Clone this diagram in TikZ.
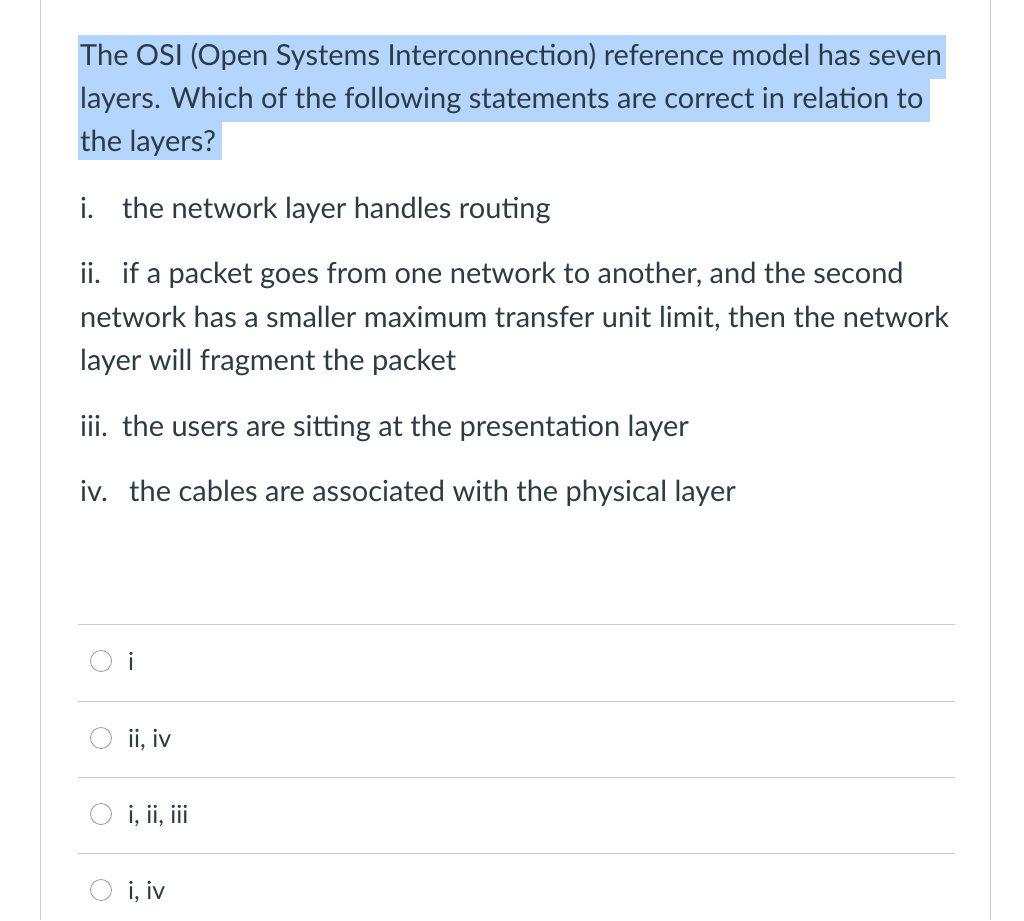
\documentclass[tikz,border=0pt]{standalone}
\usepackage{fontspec}
\setmainfont{Lato}
\definecolor{hilite}{HTML}{B4D5FE}
\definecolor{rule}{HTML}{C7CDD1}
\definecolor{txt}{HTML}{2D3B45}
\tikzset{
  qline/.style={anchor=base west, inner sep=0pt, font=\fontsize{29}{33}\selectfont, text=txt},
  aline/.style={anchor=base west, inner sep=0pt, font=\fontsize{25}{29}\selectfont, text=txt},
  radio/.style={draw=gray!80, circle, minimum size=21pt, inner sep=0pt, line width=0.8pt}
}
\newcommand{\itemlbl}[2]{\makebox[#1][l]{#2}}
\begin{document}
\begin{tikzpicture}[x=1pt,y=-1pt]
  \useasboundingbox (0,0) rectangle (1024,920);
  % frame
  \draw[rule, line width=1pt] (40,0) -- (40,920);
  \draw[rule, line width=1pt] (990,0) -- (990,920);
  % highlighted question
  \fill[hilite] (78,35) rectangle (946,79);
  \fill[hilite] (78,79) rectangle (930,122);
  \fill[hilite] (78,122) rectangle (222,160);
  \node[qline] (q1) at (80,66) {The OSI (Open Systems Interconnection) reference model has seven};
  \node[qline] (q2) at (80,109) {layers. Which of the following statements are correct in relation to};
  \node[qline] (q3) at (80,152) {the layers?};
  % statements
  \node[qline] (s1) at (80,218) {\itemlbl{42pt}{i.}the network layer handles routing};
  \node[qline] (s2a) at (80,283) {\itemlbl{42pt}{ii.}if a packet goes from one network to another, and the second};
  \node[qline] (s2b) at (80,327) {network has a smaller maximum transfer unit limit, then the network};
  \node[qline] (s2c) at (80,370) {layer will fragment the packet};
  \node[qline] (s3) at (80,436) {\itemlbl{42pt}{iii.}the users are sitting at the presentation layer};
  \node[qline] (s4) at (80,501) {\itemlbl{49pt}{iv.}the cables are associated with the physical layer};
  % answers
  \foreach \y/\lbl [count=\i] in {661/i, 738/{ii, iv}, 814/{i, ii, iii}, 890/{i, iv}} {
    \draw[rule, line width=1pt] (78,\y-37) -- (955,\y-37);
    \node[radio] (r\i) at (101,\y) {};
    \node[aline] (a\i) at (128,\y+9) {\lbl};
  }
\end{tikzpicture}
\end{document}
